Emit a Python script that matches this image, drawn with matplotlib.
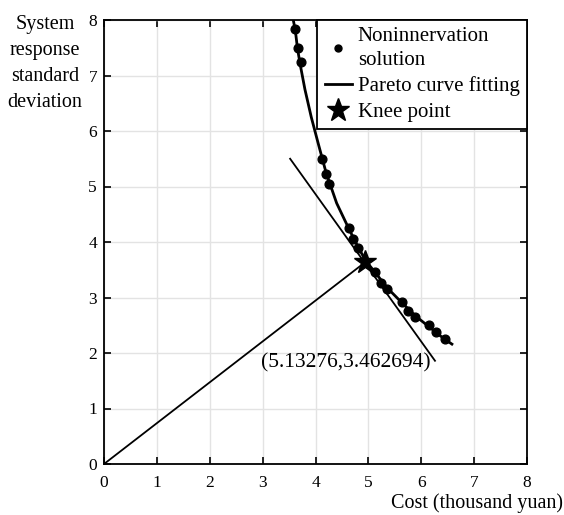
import numpy as np
import matplotlib
matplotlib.use("Agg")
import matplotlib.pyplot as plt
from matplotlib.lines import Line2D

plt.rcParams['font.family'] = ['Liberation Serif', 'DejaVu Serif']

# noninnervation solutions (cost, std deviation)
sol_cost = [3.62, 3.66, 3.72, 4.12, 4.19, 4.26, 4.63, 4.71, 4.80, 5.13, 5.23, 5.35,
            5.64, 5.75, 5.89, 6.15, 6.27, 6.44]
sol_std = [7.83, 7.50, 7.25, 5.50, 5.23, 5.05, 4.25, 4.05, 3.90, 3.465, 3.27, 3.15,
           2.91, 2.76, 2.64, 2.50, 2.37, 2.26]

# pareto curve fitting
curve_cost = [3.58, 3.62, 3.66, 3.72, 3.80, 3.92, 4.05, 4.20, 4.40, 4.63, 4.80,
              4.95, 5.13, 5.35, 5.64, 5.90, 6.15, 6.40, 6.58]
curve_std = [8.00, 7.80, 7.48, 7.15, 6.75, 6.25, 5.78, 5.25, 4.70, 4.24, 3.92,
             3.66, 3.45, 3.18, 2.90, 2.66, 2.47, 2.28, 2.16]

# knee point and tangent line
knee_cost = [4.945]
knee_std = [3.64]
tan_cost = [3.52, 6.26]
tan_std = [5.50, 1.86]
label_txt = "(5.13276,3.462694)"

fig = plt.figure(figsize=(5.64, 5.15), dpi=100)
ax = fig.add_axes([104/564, 1-464/515, 423/564, 444/515])

ax.grid(True, color='#e3e3e3', linewidth=1.0)
ax.set_axisbelow(True)

# line from origin to the knee point
ax.plot([0, knee_cost[0]], [0, knee_std[0]], color='black', lw=1.3)
ax.plot(tan_cost, tan_std, color='black', lw=1.3)

# right angle mark at the knee (built in pixel space)
p0 = ax.transData.transform((knee_cost[0], knee_std[0]))
po = ax.transData.transform((0, 0))
pt = ax.transData.transform((tan_cost[1], tan_std[1]))
u = (po - p0) / np.linalg.norm(po - p0) * 11
v = (pt - p0) / np.linalg.norm(pt - p0) * 11
sq = np.array([p0 + u, p0 + u + v, p0 + v])
sq = ax.transData.inverted().transform(sq)
ax.plot(sq[:, 0], sq[:, 1], color='black', lw=0.9)

ax.plot(curve_cost, curve_std, color='black', lw=2.0)
ax.plot(sol_cost, sol_std, 'o', color='black', ms=6.3)
ax.plot(knee_cost, knee_std, '*', color='black', ms=17)

ax.text(4.57, 1.83, label_txt, ha='center', va='center', fontsize=15.5)

ax.set_xlim(0, 8)
ax.set_ylim(0, 8)
ax.set_xticks(range(0, 9))
ax.set_yticks(range(0, 9))
ax.tick_params(direction='in', top=True, right=True, length=5, width=1.2, labelsize=12.5)
ax.tick_params(axis='x', pad=8)
ax.tick_params(axis='y', pad=5)
for s in ax.spines.values():
    s.set_linewidth(1.3)

handles = [Line2D([], [], marker='o', ls='none', color='black', ms=5),
           Line2D([], [], color='black', lw=2),
           Line2D([], [], marker='*', ls='none', color='black', ms=17)]
labels = ["Noninnervation\nsolution", "Pareto curve fitting", "Knee point"]
leg = ax.legend(handles, labels, loc='upper right', borderaxespad=0, fontsize=15,
                fancybox=False, framealpha=1, edgecolor='black', handlelength=1.3,
                handletextpad=0.3, labelspacing=0.3, borderpad=0.35)
leg.get_frame().set_linewidth(1.3)
for t in leg.get_texts():
    t.set_linespacing(1.35)

fig.text(45/564, 1-15/515, "System\nresponse\nstandard\ndeviation", ha='center', va='top',
         multialignment='center', fontsize=14.5, linespacing=1.5)
fig.text(563/564, 1-503/515, "Cost (thousand yuan)", ha='right', va='center', fontsize=14.5)

fig.savefig("out.png", dpi=100)
